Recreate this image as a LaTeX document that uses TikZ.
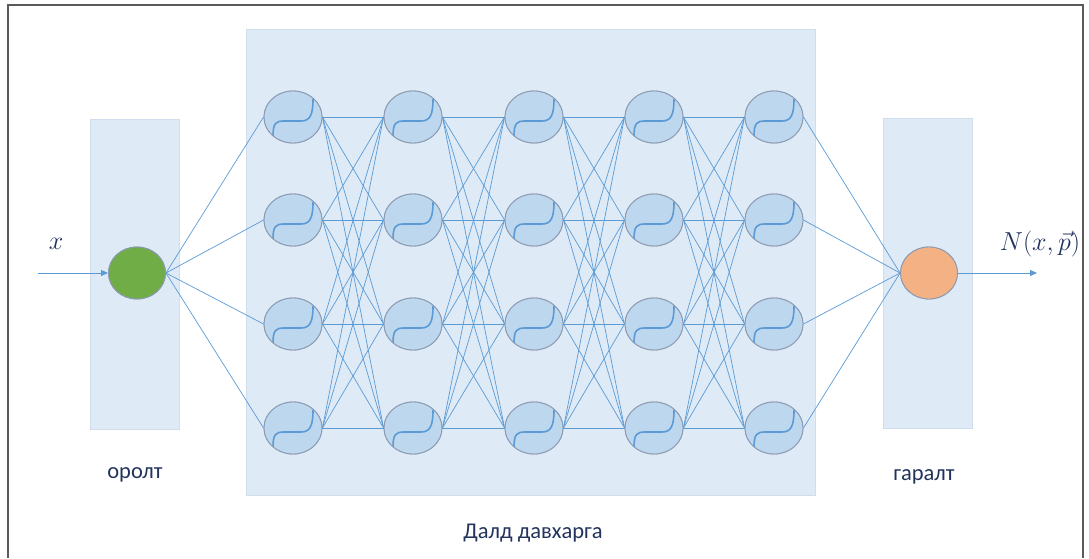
\RequirePackage{fix-cm}
\documentclass[tikz,border=0pt]{standalone}
\usepackage{fontspec}
\setmainfont{Carlito}
\usetikzlibrary{shapes.geometric,arrows.meta}
\definecolor{boxfill}{RGB}{222,234,246}
\definecolor{boxline}{RGB}{208,221,236}
\definecolor{neufill}{RGB}{189,215,238}
\definecolor{neuline}{RGB}{140,155,178}
\definecolor{wire}{RGB}{91,155,213}
\definecolor{txt}{RGB}{34,52,92}
\definecolor{ingreen}{RGB}{112,173,71}
\definecolor{outorange}{RGB}{244,177,131}
\definecolor{frame}{RGB}{90,90,90}
\tikzset{
  x=1pt,y=1pt,
  layerbox/.style={fill=boxfill,draw=boxline,line width=0.8pt},
  neuron/.style={ellipse,draw=neuline,line width=0.9pt,fill=neufill,minimum width=58pt,minimum height=52pt,inner sep=0pt,
    path picture={\draw[wire,line width=1.6pt,shift={(path picture bounding box.center)}]
      (-20,-19) .. controls (-20,-6) and (-17,-4) .. (-9,-4) -- (8,-4) .. controls (17,-4) and (20,2) .. (20,18);}},
  ionode/.style={ellipse,draw=neuline,line width=0.9pt,minimum width=57pt,minimum height=52pt,inner sep=0pt},
  conn/.style={wire,line width=0.7pt},
  arr/.style={wire,line width=0.8pt,-{Triangle[length=7pt,width=6pt]}},
  lbl/.style={text=txt,font=\fontsize{22.5}{27}\selectfont},
  mlbl/.style={text=txt,font=\fontsize{26}{30}\selectfont},
}
\begin{document}
\begin{tikzpicture}
\useasboundingbox (0,0) rectangle (1089,558);
\fill[white] (0,0) rectangle (1089,558);
\draw[frame,line width=1.4pt] (8,0) -- (8,553) -- (1083,553) -- (1083,0);
% layer boxes
\draw[layerbox] (90,129) rectangle (179,439);
\draw[layerbox] (246,63) rectangle (815,529);
\draw[layerbox] (883,130) rectangle (972,440);
% neurons (named, for anchors)
\node[ionode,fill=ingreen] (in) at (137,285) {};
\node[ionode,fill=outorange] (out) at (929,285) {};
\foreach \i/\x in {1/293,2/413,3/534,4/654,5/774}{
  \foreach \j/\y in {1/441,2/338,3/234,4/130}{
    \node[neuron] (h\i\j) at (\x,\y) {};
  }
}
% connectors
\foreach \j in {1,...,4}{
  \draw[conn] (in.east) -- (h1\j.west);
  \draw[conn] (h5\j.east) -- (out.west);
}
\foreach \i/\n in {1/2,2/3,3/4,4/5}{
  \foreach \j in {1,...,4}{
    \foreach \k in {1,...,4}{
      \draw[conn] (h\i\j.east) -- (h\n\k.west);
    }
  }
}
% redraw neurons on top of connectors
\foreach \i/\x in {1/293,2/413,3/534,4/654,5/774}{
  \foreach \j/\y in {1/441,2/338,3/234,4/130}{
    \node[neuron] at (\x,\y) {};
  }
}
\node[ionode,fill=ingreen] at (137,285) {};
\node[ionode,fill=outorange] at (929,285) {};
% arrows
\coordinate (start) at (38,285);
\coordinate (end) at (1037,285);
\draw[arr] (start) -- (in.west);
\draw[arr] (out.east) -- (end);
% labels
\node[mlbl] (xl) at (56,314) {\(x\)};
\node[mlbl] (nl) at (1040,314) {\(N(x,\vec{p})\)};
\node[lbl] (inl) at (135,83) {оролт};
\node[lbl] (outl) at (924,81) {гаралт};
\node[lbl] (hidl) at (533,25) {Далд давхарга};
\end{tikzpicture}
\end{document}
